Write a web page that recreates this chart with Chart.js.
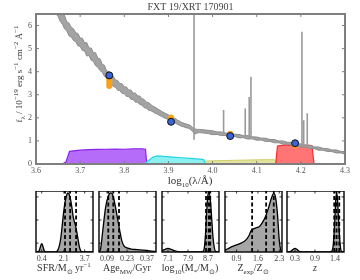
<!DOCTYPE html>
<html>
<head>
<meta charset="utf-8">
<script src="https://cdn.jsdelivr.net/npm/chart.js@4.4.0/dist/chart.umd.min.js"></script>
<style>
body{margin:0;background:#fff;}
#wrap{position:relative;width:360px;height:280px;overflow:hidden;font-family:'Liberation Serif',serif;color:#333;background:#fff;}
canvas{position:absolute;}
.lab{position:absolute;font-size:10px;line-height:12px;text-align:center;white-space:nowrap;}
.lab sub,.lab sup{font-size:7px;line-height:0;}
</style>
</head>
<body>
<div id="wrap">
  <canvas id="main" width="360" height="190" style="left:0;top:0;width:360px;height:190px"></canvas>
  <canvas id="p0" width="77" height="74"></canvas>
  <canvas id="p1" width="77" height="74"></canvas>
  <canvas id="p2" width="77" height="74"></canvas>
  <canvas id="p3" width="77" height="74"></canvas>
  <canvas id="p4" width="77" height="74"></canvas>
  <div class="lab" style="left:-81px;top:68px;width:200px;font-size:9px;transform:rotate(-90deg);">f<sub>λ</sub> / 10<sup>−19</sup> erg s<sup>−1</sup> cm<sup>−2</sup> Å<sup>−1</sup></div>
  <div class="lab" style="left:140px;top:174px;width:100px;font-size:11px;">log<sub>10</sub>(λ/Å)</div>
  <div class="lab" style="left:19px;top:262px;width:90px;">SFR/M<sub>⊙</sub> yr<sup>−1</sup></div>
  <div class="lab" style="left:82px;top:262px;width:90px;">Age<sub>MW</sub>/Gyr</div>
  <div class="lab" style="left:145px;top:262px;width:90px;">log<sub>10</sub>(M<sub>*</sub>/M<sub>⊙</sub>)</div>
  <div class="lab" style="left:208px;top:262px;width:90px;">Z<sub>exp</sub>/Z<sub>⊙</sub></div>
  <div class="lab" style="left:270px;top:262px;width:90px;"><i>z</i></div>
</div>
<script>
// model spectrum band (log10 wavelength, lower / upper envelope)
var specX = [3.640, 3.645, 3.650, 3.655, 3.660, 3.665, 3.670, 3.675, 3.680, 3.685, 3.690, 3.695, 3.700, 3.705, 3.710, 3.715,
  3.720, 3.725, 3.730, 3.735, 3.740, 3.745, 3.750, 3.755, 3.760, 3.765, 3.770, 3.775, 3.780, 3.785, 3.790, 3.795,
  3.800, 3.805, 3.810, 3.815, 3.820, 3.825, 3.830, 3.835, 3.840, 3.845, 3.850, 3.855, 3.860, 3.865, 3.870, 3.875,
  3.880, 3.885, 3.890, 3.895, 3.900, 3.905, 3.910, 3.915, 3.920, 3.925, 3.930, 3.935, 3.940, 3.945, 3.950, 3.955,
  3.960, 3.965, 3.970, 3.975, 3.980, 3.990, 4.000, 4.010, 4.020, 4.030, 4.040, 4.050, 4.060, 4.070, 4.080, 4.090,
  4.100, 4.110, 4.120, 4.130, 4.140, 4.150, 4.160, 4.170, 4.180, 4.190, 4.200, 4.210, 4.220, 4.230, 4.240, 4.250,
  4.260, 4.270, 4.280, 4.290, 4.300];
var specLo = [6.75, 6.50, 6.40, 6.18, 6.05, 5.85, 5.76, 5.55, 5.50, 5.35, 5.30, 5.12, 5.10, 4.92, 4.90, 4.68,
  4.70, 4.50, 4.45, 4.26, 4.20, 4.05, 3.98, 3.80, 3.72, 3.55, 3.50, 3.36, 3.33, 3.20, 3.18, 3.06,
  3.05, 2.93, 2.92, 2.80, 2.80, 2.68, 2.68, 2.58, 2.55, 2.44, 2.42, 2.33, 2.31, 2.26, 2.20, 2.16,
  2.10, 2.06, 2.00, 1.97, 1.92, 1.88, 1.82, 1.78, 1.72, 1.68, 1.63, 1.61, 1.57, 1.55, 1.50, 1.40,
  1.30, 1.34, 1.36, 1.35, 1.34, 1.32, 1.27, 1.28, 1.23, 1.24, 1.18, 1.19, 1.13, 1.14, 1.08, 1.09,
  1.03, 1.04, 0.98, 0.98, 0.92, 0.92, 0.86, 0.86, 0.80, 0.80, 0.74, 0.73, 0.67, 0.67, 0.60, 0.60,
  0.54, 0.54, 0.48, 0.48, 0.44];
var specHi = [7.30, 7.10, 6.90, 6.78, 6.52, 6.42, 6.15, 6.10, 5.92, 5.86, 5.68, 5.66, 5.46, 5.45, 5.25, 5.26,
  5.02, 5.03, 4.82, 4.82, 4.58, 4.56, 4.32, 4.28, 4.02, 4.02, 3.82, 3.80, 3.64, 3.62, 3.48, 3.48,
  3.34, 3.34, 3.20, 3.21, 3.07, 3.08, 2.95, 2.95, 2.83, 2.80, 2.68, 2.66, 2.58, 2.50, 2.46, 2.40,
  2.34, 2.28, 2.22, 2.18, 2.13, 2.08, 2.02, 1.97, 1.91, 1.86, 1.80, 1.77, 1.73, 1.71, 1.67, 1.58,
  1.52, 1.50, 1.50, 1.49, 1.48, 1.46, 1.44, 1.39, 1.39, 1.34, 1.34, 1.29, 1.28, 1.23, 1.23, 1.18,
  1.17, 1.12, 1.12, 1.06, 1.06, 1.00, 1.00, 0.94, 0.94, 0.88, 0.87, 0.81, 0.81, 0.74, 0.74, 0.68,
  0.67, 0.61, 0.61, 0.55, 0.54];

// emission lines
var lineX = [3.958, 4.025, 4.074, 4.083, 4.087, 4.2025, 4.2065, 4.2145];
var lineBase = [1.05, 1.31, 1.18, 1.15, 1.14, 0.78, 0.77, 0.74];
var linePeak = [7.20, 2.34, 2.40, 2.90, 3.78, 5.73, 1.90, 2.20];

// photometry
var photX = [3.766, 3.906, 4.040, 4.187];
var obsFlux = [3.84, 1.83, 1.21, 0.90];
var obsErr = [0.15, 0.04, 0.03, 0.03];
var modLo = [3.38, 1.95, 1.27, 0.80];
var modHi = [3.72, 2.01, 1.31, 0.82];

// filter curves
var purpleX = [3.660, 3.668, 3.676, 3.690, 3.700, 3.720, 3.740, 3.760, 3.780, 3.800, 3.820, 3.840, 3.848, 3.851];
var purpleY = [0, 0.10, 0.55, 0.58, 0.60, 0.62, 0.63, 0.64, 0.65, 0.64, 0.66, 0.66, 0.64, 0];
var cyanX = [3.845, 3.855, 3.865, 3.875, 3.890, 3.910, 3.930, 3.950, 3.970, 3.980, 3.983];
var cyanY = [0, 0.15, 0.30, 0.35, 0.33, 0.30, 0.27, 0.24, 0.21, 0.19, 0];
var yellowX = [3.885, 3.900, 3.950, 4.000, 4.050, 4.100, 4.140, 4.145];
var yellowY = [0, 0.10, 0.10, 0.14, 0.16, 0.18, 0.19, 0];
var redX = [4.143, 4.147, 4.160, 4.200, 4.225, 4.230];
var redY = [0, 0.78, 0.82, 0.83, 0.80, 0];

var xTicks = [3.6, 3.7, 3.8, 3.9, 4.0, 4.1, 4.2, 4.3];
var yTicks = [0, 1, 2, 3, 4, 5, 6];

// posterior panels
var sfrX = [-0.04, 0.2, 0.3, 0.4, 0.5, 0.6, 0.8, 1.4, 1.6, 1.8, 1.9, 2.0, 2.1, 2.2, 2.3, 2.4, 2.5, 2.6, 2.7, 2.8, 2.9, 3.0, 3.1, 3.2, 3.3, 3.4, 3.6, 4.34];
var sfrY = [0, 0.02, 0.09, 0.14, 0.09, 0.02, 0, 0, 0.02, 0.15, 0.30, 0.50, 0.70, 0.85, 0.95, 1.00, 0.98, 0.90, 0.78, 0.62, 0.52, 0.44, 0.33, 0.20, 0.08, 0.02, 0, 0];
var sfrQ = [2.19, 2.58, 3.04];
var sfrTicks = [0.4, 2.1, 3.7];

var ageX = [0.034, 0.045, 0.06, 0.08, 0.10, 0.115, 0.125, 0.135, 0.15, 0.165, 0.18, 0.195, 0.21, 0.23, 0.26, 0.30, 0.35, 0.40, 0.433];
var ageY = [0, 0.05, 0.35, 0.75, 0.95, 1.00, 0.99, 0.92, 0.75, 0.55, 0.35, 0.18, 0.10, 0.07, 0.05, 0.04, 0.03, 0.015, 0.01];
var ageQ = [0.099, 0.134, 0.174];
var ageTicks = [0.09, 0.23, 0.37];

var massX = [6.86, 7.0, 7.1, 7.2, 7.3, 7.45, 7.7, 8.3, 8.5, 8.55, 8.6, 8.65, 8.7, 8.75, 8.8, 8.85, 8.9, 8.95, 9.0, 9.14];
var massY = [0.02, 0.05, 0.06, 0.05, 0.03, 0.01, 0, 0, 0.01, 0.06, 0.30, 0.70, 0.97, 1.00, 0.85, 0.55, 0.25, 0.08, 0.01, 0];
var massQ = [8.62, 8.73, 8.79];
var massTicks = [7.1, 7.9, 8.7];

var metX = [0.52, 0.6, 0.75, 0.9, 1.05, 1.2, 1.3, 1.38, 1.45, 1.55, 1.65, 1.75, 1.85, 1.95, 2.05, 2.12, 2.18, 2.24, 2.3, 2.35, 2.39];
var metY = [0.03, 0.05, 0.09, 0.12, 0.15, 0.20, 0.27, 0.36, 0.39, 0.41, 0.43, 0.50, 0.60, 0.75, 0.92, 0.99, 0.92, 0.65, 0.20, 0.03, 0];
var metQ = [1.41, 1.87, 2.12];
var metTicks = [0.9, 1.6, 2.3];

var zX = [0.08, 0.18, 0.24, 0.3, 0.36, 0.42, 0.6, 1.2, 1.3, 1.35, 1.39, 1.42, 1.445, 1.47, 1.5, 1.54, 1.58, 1.65];
var zY = [0, 0.01, 0.04, 0.06, 0.04, 0.01, 0, 0, 0.01, 0.10, 0.45, 0.85, 1.00, 0.90, 0.55, 0.15, 0.01, 0];
var zQ = [1.38, 1.445, 1.52];
var zTicks = [0.3, 0.9, 1.4];
var zTickPos = [0.3, 0.85, 1.4];

var panelYTicks = [0.15, 0.54, 0.93];
var PANEL_YMAX = 1.03;

function pts(xs, ys) {
  return xs.map(function (x, i) { return {x: x, y: ys[i]}; });
}
function segs(xs, y0, y1) {
  var out = [];
  xs.forEach(function (x, i) {
    out.push({x: x, y: y0[i]}, {x: x, y: y1[i]}, {x: x, y: null});
  });
  return out;
}

// frame + inward ticks on all four sides
var frame = {
  id: 'frame',
  afterDraw: function (chart, args, o) {
    var a = chart.chartArea, ctx = chart.ctx, sx = chart.scales.x, sy = chart.scales.y;
    ctx.save();
    ctx.strokeStyle = o.color;
    ctx.lineWidth = o.tickWidth;
    ctx.beginPath();
    sx.ticks.forEach(function (t) {
      var p = sx.getPixelForValue(t.value);
      ctx.moveTo(p, a.bottom); ctx.lineTo(p, a.bottom - o.len);
      ctx.moveTo(p, a.top); ctx.lineTo(p, a.top + o.len);
    });
    sy.ticks.forEach(function (t) {
      var p = sy.getPixelForValue(t.value);
      ctx.moveTo(a.left, p); ctx.lineTo(a.left + o.len, p);
      ctx.moveTo(a.right, p); ctx.lineTo(a.right - o.len, p);
    });
    ctx.stroke();
    ctx.lineWidth = o.width;
    ctx.strokeRect(a.left, a.top, a.right - a.left, a.bottom - a.top);
    ctx.restore();
  }
};

var serif = "'Liberation Serif', serif";

new Chart(document.getElementById('main'), {
  type: 'line',
  data: {
    datasets: [
      {data: pts(photX, obsFlux), showLine: false, pointRadius: 3.5, pointBackgroundColor: '#3a63d6', pointBorderColor: '#111', pointBorderWidth: 1, order: 0},
      {data: segs(photX, obsFlux.map(function (v, i) { return v - obsErr[i]; }), obsFlux.map(function (v, i) { return v + obsErr[i]; })), borderColor: '#111', borderWidth: 1, pointRadius: 0, spanGaps: false, order: 1},
      {data: segs(photX, modLo, modHi), borderColor: '#f7a21b', borderWidth: 6, borderCapStyle: 'round', pointRadius: 0, spanGaps: false, order: 2},
      {data: segs(lineX, lineBase, linePeak), borderColor: '#9a9a9a', borderWidth: 1.6, pointRadius: 0, spanGaps: false, order: 3},
      {data: pts(specX, specLo), borderColor: '#8c8c8c', borderWidth: 1, pointRadius: 0, fill: false, order: 4},
      {data: pts(specX, specHi), borderColor: '#8c8c8c', borderWidth: 1, pointRadius: 0, fill: '-1', backgroundColor: '#a3a3a3', order: 4},
      {data: pts(redX, redY), borderColor: '#ff2a2a', borderWidth: 1.2, backgroundColor: '#ff7474', fill: 'origin', pointRadius: 0, order: 6},
      {data: pts(yellowX, yellowY), borderColor: '#cfcf6a', borderWidth: 1, backgroundColor: '#e4e4a2', fill: 'origin', pointRadius: 0, order: 7},
      {data: pts(cyanX, cyanY), borderColor: '#25d4e0', borderWidth: 1.2, backgroundColor: '#8af0f0', fill: 'origin', pointRadius: 0, order: 6},
      {data: pts(purpleX, purpleY), borderColor: '#8a22e8', borderWidth: 1.2, backgroundColor: '#b56cf9', fill: 'origin', pointRadius: 0, order: 6}
    ]
  },
  options: {
    responsive: false,
    animation: false,
    devicePixelRatio: 1,
    layout: {padding: {left: 0, right: 15, top: 0, bottom: 0}},
    plugins: {
      legend: {display: false},
      tooltip: {enabled: false},
      title: {display: true, text: 'FXT 19/XRT 170901', fullSize: false, color: '#444',
        font: {family: serif, size: 10, weight: 'normal', lineHeight: 1}, padding: {top: 2, bottom: 2}},
      frame: {color: '#7f7f7f', width: 2, tickWidth: 1, len: 3}
    },
    scales: {
      x: {
        type: 'linear', min: 3.6, max: 4.3,
        afterBuildTicks: function (s) { s.ticks = xTicks.map(function (v) { return {value: v}; }); },
        afterFit: function (s) { s.height = 26; },
        ticks: {callback: function (v) { return v.toFixed(1); }, color: '#555', font: {family: serif, size: 8}, padding: 2, maxRotation: 0, autoSkip: false},
        grid: {display: false, drawTicks: false},
        border: {display: false}
      },
      y: {
        min: 0, max: 6.5,
        afterBuildTicks: function (s) { s.ticks = yTicks.map(function (v) { return {value: v}; }); },
        afterFit: function (s) { s.width = 36; },
        ticks: {callback: function (v) { return String(v); }, color: '#555', font: {family: serif, size: 8}, padding: 4},
        grid: {display: false, drawTicks: false},
        border: {display: false}
      }
    }
  },
  plugins: [frame]
});

var panels = [
  {xs: sfrX, ys: sfrY, q: sfrQ, ticks: sfrTicks, labels: sfrTicks, min: -0.04, max: 4.34, left: 36},
  {xs: ageX, ys: ageY, q: ageQ, ticks: ageTicks, labels: ageTicks, min: 0.034, max: 0.433, left: 99},
  {xs: massX, ys: massY, q: massQ, ticks: massTicks, labels: massTicks, min: 6.86, max: 9.14, left: 162},
  {xs: metX, ys: metY, q: metQ, ticks: metTicks, labels: metTicks, min: 0.52, max: 2.39, left: 225},
  {xs: zX, ys: zY, q: zQ, ticks: zTickPos, labels: zTicks, min: 0.08, max: 1.65, left: 287}
];

panels.forEach(function (p, i) {
  var cv = document.getElementById('p' + i);
  cv.style.left = (p.left - 10) + 'px';
  cv.style.top = '191px';
  cv.style.width = '77px';
  cv.style.height = '74px';
  new Chart(cv, {
    type: 'line',
    data: {
      datasets: [
        {data: segs(p.q, p.q.map(function () { return 0; }), p.q.map(function () { return PANEL_YMAX; })),
          borderColor: '#000', borderWidth: 1.8, borderDash: [4, 2.5], pointRadius: 0, spanGaps: false, order: 0},
        {data: pts(p.xs, p.ys), borderColor: '#000', borderWidth: 1.3, backgroundColor: '#a6a6a6', fill: 'origin',
          pointRadius: 0, cubicInterpolationMode: 'monotone', order: 1}
      ]
    },
    options: {
      responsive: false,
      animation: false,
      devicePixelRatio: 1,
      layout: {padding: {left: 10, right: 10, top: 0, bottom: 0}},
      plugins: {
        legend: {display: false},
        tooltip: {enabled: false},
        frame: {color: '#000', width: 1.4, tickWidth: 0.8, len: 2.5}
      },
      scales: {
        x: {
          type: 'linear', min: p.min, max: p.max,
          afterBuildTicks: function (s) { s.ticks = p.ticks.map(function (v) { return {value: v}; }); },
          afterFit: function (s) { s.height = 13; },
          ticks: {callback: function (v, k) { return String(p.labels[k]); }, color: '#444', font: {family: serif, size: 8}, padding: 2, maxRotation: 0, autoSkip: false},
          grid: {display: false, drawTicks: false},
          border: {display: false}
        },
        y: {
          min: 0, max: PANEL_YMAX,
          afterBuildTicks: function (s) { s.ticks = panelYTicks.map(function (v) { return {value: v}; }); },
          afterFit: function (s) { s.width = 0; },
          ticks: {display: false},
          grid: {display: false, drawTicks: false},
          border: {display: false}
        }
      }
    },
    plugins: [frame]
  });
});
</script>
</body>
</html>
